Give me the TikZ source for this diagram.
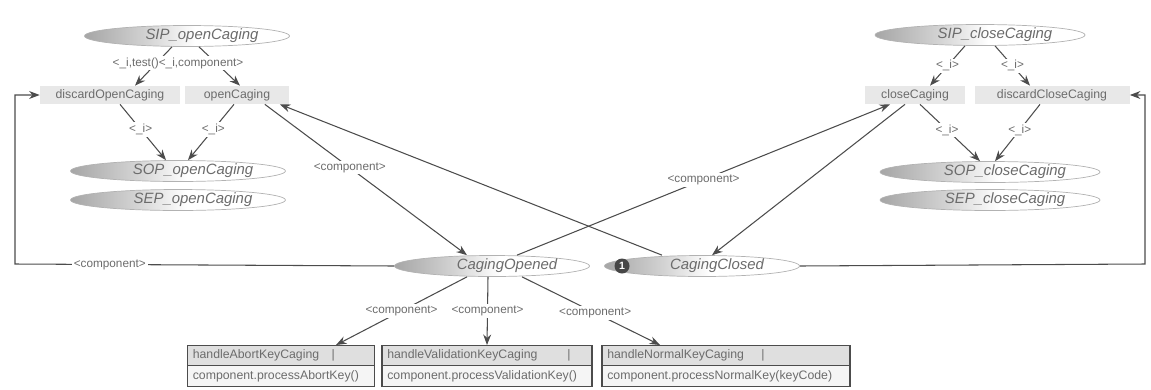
\documentclass[tikz,border=0pt]{standalone}
\usepackage{fontspec}
\setmainfont{Liberation Sans}
\usetikzlibrary{shapes.geometric,shapes.multipart,arrows.meta,calc}
\colorlet{stdark}{gray!70}
\colorlet{stmid}{gray!35}
\pgfdeclarehorizontalshading{statefade}{100bp}{color(0bp)=(stdark); color(25bp)=(stdark); color(40bp)=(stmid); color(52bp)=(white); color(100bp)=(white)}
\tikzset{
  state/.style={ellipse, draw=gray!60, shading=statefade, minimum height=0.42cm, inner sep=0pt,
    font=\fontsize{8.5}{10}\selectfont\itshape, text=gray!85!black},
  act/.style={rectangle, fill=gray!18, minimum height=0.36cm, inner sep=1pt,
    font=\fontsize{7}{8}\selectfont, text=gray!85!black},
  conn/.style={draw=gray!60!black, line width=0.6pt, -{Stealth[length=6pt,width=4.5pt]}},
  lbl/.style={fill=white, inner sep=1pt, font=\fontsize{6.7}{8}\selectfont, text=gray!85!black},
  handler/.style={rectangle split, rectangle split parts=2, draw=gray!60!black, line width=0.6pt,
    rectangle split part fill={gray!25,gray!8}, font=\fontsize{7}{8}\selectfont, text=gray!85!black,
    align=left, inner xsep=3pt, inner ysep=2.2pt, anchor=north},
  marker/.style={circle, fill=gray!55!black, text=white, inner sep=0.5pt, minimum size=0.3cm,
    font=\fontsize{6}{6}\selectfont\bfseries}
}
\newcommand{\stxt}[1]{\hspace{0.6cm}#1}
\begin{document}
\begin{tikzpicture}[x=0.02cm,y=-0.02cm]
            \useasboundingbox (0,0) rectangle (1151,389);
            % openCaging side
            \node[state, minimum width=4.1cm] (sipo) at (187,36) {\stxt{SIP\_openCaging}};
            \node[act, minimum width=2.8cm] (disco) at (110,95) {discardOpenCaging};
            \node[act, minimum width=2.1cm] (openc) at (237,95) {openCaging};
            \node[state, minimum width=4.3cm] (sopo) at (178,171) {\stxt{SOP\_openCaging}};
            \node[state, minimum width=4.3cm] (sepo) at (178,200) {\stxt{SEP\_openCaging}};
            % closeCaging side
            \node[state, minimum width=4.2cm] (sipc) at (980,35) {\stxt{SIP\_closeCaging}};
            \node[act, minimum width=2.0cm] (closec) at (915,95) {closeCaging};
            \node[act, minimum width=3.1cm] (discc) at (1052,95) {discardCloseCaging};
            \node[state, minimum width=4.4cm] (sopc) at (990,172) {\stxt{SOP\_closeCaging}};
            \node[state, minimum width=4.4cm] (sepc) at (990,200) {\stxt{SEP\_closeCaging}};
            % component states
            \node[state, minimum width=3.9cm] (opened) at (492,266) {\stxt{CagingOpened}};
            \node[state, minimum width=3.9cm] (closed) at (702,266) {\stxt{CagingClosed}};
            \node[marker] (closedmark) at (622,266) {1};
            % handlers
            \node[handler, text width=3.53cm] (abort) at (281,345) {handleAbortKeyCaging\hspace{0.25cm}|\nodepart{two}component.processAbortKey()};
            \node[handler, text width=3.99cm] (valid) at (487,345) {handleValidationKeyCaging\hspace{0.6cm}|\nodepart{two}component.processValidationKey()};
            \node[handler, text width=4.75cm] (normal) at (726,345) {handleNormalKeyCaging\hspace{0.35cm}|\nodepart{two}component.processNormalKey(keyCode)};
            \coordinate (lbend) at (15,264);
            \coordinate (rbend) at (1145,264);

            \draw[conn] ($(sipo.south)+(-15,0)$) -- ($(disco.north)+(25,0)$);
            \draw[conn] ($(sipo.south)+(12,0)$) -- ($(openc.north)+(3,0)$);
            \node[lbl] (siplbl) at (178,63) {<\_i,test()<\_i,component>};
            \draw[conn] ($(disco.south)+(10,0)$) -- node[lbl, pos=0.45] (dlbl) {<\_i>} ($(sopo.north)+(-12,0)$);
            \draw[conn] ($(openc.south)+(-3,0)$) -- node[lbl, pos=0.45] (olbl) {<\_i>} ($(sopo.north)+(10,0)$);

            \draw[conn] ($(sipc.south)+(-15,0)$) -- node[lbl] (clbl) {<\_i>} ($(closec.north)+(15,0)$);
            \draw[conn] ($(sipc.south)+(15,0)$) -- node[lbl] (dclbl) {<\_i>} ($(discc.north)+(-22,0)$);
            \draw[conn] ($(closec.south)+(5,0)$) -- node[lbl, pos=0.45] (cslbl) {<\_i>} ($(sopc.north)+(-10,0)$);
            \draw[conn] ($(discc.south)+(-12,0)$) -- node[lbl, pos=0.45] (dslbl) {<\_i>} ($(sopc.north)+(5,0)$);

            \draw[conn] ($(openc.south east)+(-25,0)$) -- node[lbl, pos=0.42] (toopen) {<component>} ($(opened.north)+(-25,0)$);
            \draw[conn] ($(closed.north)+(-40,0)$) -- ($(openc.south east)+(-10,0)$);
            \draw[conn] ($(opened.north)+(25,0)$) -- node[lbl, pos=0.5] (toclose) {<component>} ($(closec.south)+(-25,0)$);
            \draw[conn] ($(closec.south)+(-10,0)$) -- ($(closed.north)+(10,0)$);

            \draw[conn] (opened.west) -- node[lbl, pos=0.75] (back) {<component>} (lbend) |- (disco.west);
            \draw[conn] (closed.east) -- (rbend) |- (discc.east);

            \draw[conn] ($(opened.south)+(-25,0)$) -- node[lbl, pos=0.5] (toabort) {<component>} ($(abort.north)+(55,0)$);
            \draw[conn] ($(opened.south)+(-4,0)$) -- node[lbl, pos=0.5] (tovalid) {<component>} (valid.north);
            \draw[conn] ($(opened.south)+(30,0)$) -- node[lbl, pos=0.53] (tonormal) {<component>} ($(normal.north)+(-66,0)$);
        \end{tikzpicture}
\end{document}
